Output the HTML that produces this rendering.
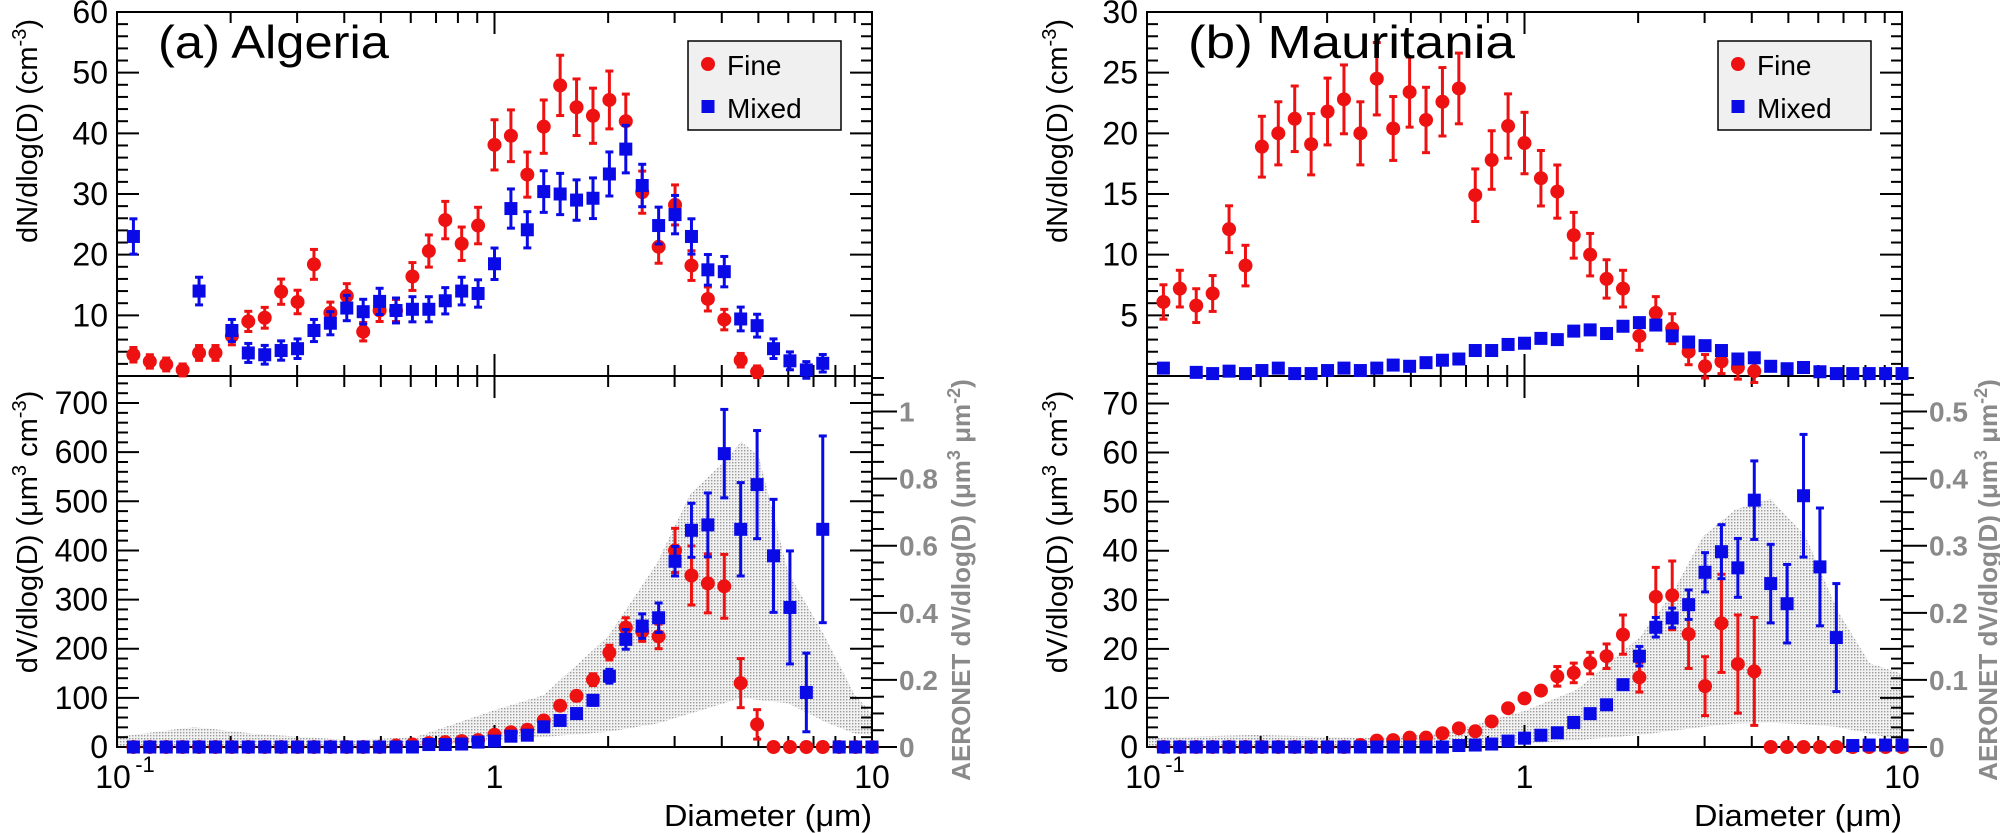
<!DOCTYPE html>
<html><head><meta charset="utf-8">
<style>
html,body{margin:0;padding:0;background:#fff;}
svg{display:block;font-family:"Liberation Sans",Arial,sans-serif;}
</style></head>
<body>
<svg id="chart" width="2000" height="833" viewBox="0 0 2000 833" xmlns="http://www.w3.org/2000/svg">
<g id="root"></g>
</svg>
<script>
// ---------- data (bin index i -> diameter 10^((i-22)/23) um) ----------
const binCount = 46;
// (a) Algeria, top: dN/dlog(D)
const algTopFine = [3.5,2.4,1.9,1.0,3.8,3.8,6.6,9.0,9.6,13.9,12.2,18.4,10.4,13.2,7.3,10.8,10.8,16.4,20.6,25.7,21.8,24.8,38.1,39.6,33.2,41.1,47.9,44.3,42.9,45.5,42.0,30.3,21.3,28.2,18.2,12.7,9.3,2.6,0.7,null,null,null,null,null,null,null];
const algTopMixed = [23.0,null,null,null,14.0,null,7.5,3.8,3.5,4.2,4.5,7.5,8.7,11.2,10.6,12.3,10.8,11.0,11.0,12.4,14.0,13.6,18.5,27.6,24.1,30.4,30.0,29.0,29.3,33.3,37.4,31.4,24.8,26.6,23.0,17.5,17.2,9.4,8.3,4.5,2.5,1.0,2.1,null,null,null];
// (a) Algeria, bottom: dV/dlog(D)
const algBotFine = [0,0,0,0,0,0,0,0,0,0,0,0,0,0,0,0,3,5,8,10,12,14,25,30,35,54,84,104,137,192,243,235,225,400,349,333,327,130,46,0,0,0,0,0,0,0];
const algBotFineErr = [0,0,0,0,0,0,0,0,0,0,0,0,0,0,0,0,0,0,0,0,0,0,4,5,5,6,8,10,12,15,20,20,25,45,60,60,65,50,30,0,0,0,0,0,0,0];
const algBotMixed = [0,0,0,0,0,0,0,0,0,0,0,0,0,0,0,0,0,0,5,5,6,10,12,22,24,41,54,68,95,144,219,246,263,378,441,452,597,443,534,389,284,111,443,0,0,0];
const algBotMixedErr = [0,0,0,0,0,0,0,0,0,0,0,0,0,0,0,0,0,0,0,0,0,0,3,4,4,5,6,8,10,14,20,25,30,30,55,65,90,95,110,115,115,80,190,0,0,0];
const algAeroD = [0.1,0.16,0.23,0.42,0.62,1,1.35,2,2.7,3.3,4.05,4.5,5,6,7.5,9,10];
const algAeroHi = [0.03,0.06,0.04,0.02,0.03,0.11,0.155,0.33,0.55,0.755,0.85,0.91,0.87,0.52,0.33,0.155,0.10];
const algAeroLo = [0,0,0,0,0,0.02,0.03,0.045,0.07,0.1,0.13,0.147,0.14,0.13,0.075,0.04,0.036];
// (b) Mauritania, top
const mauTopFine = [6.1,7.2,5.8,6.8,12.1,9.1,18.9,20.0,21.2,19.1,21.8,22.8,20.0,24.5,20.4,23.4,21.1,22.6,23.7,14.9,17.8,20.6,19.2,16.3,15.2,11.6,10.0,8.0,7.2,3.3,5.2,3.9,2.0,0.8,1.2,0.7,0.4,null,null,null,null,null,null,null,null,null];
const mauTopMixed = [0.65,null,0.3,0.2,0.4,0.2,0.45,0.65,0.2,0.2,0.45,0.65,0.45,0.65,0.9,0.8,1.1,1.3,1.4,2.1,2.1,2.6,2.7,3.1,3.0,3.7,3.8,3.5,4.1,4.4,4.2,3.3,2.8,2.5,2.1,1.4,1.5,0.8,0.6,0.7,0.35,0.2,0.2,0.2,0.2,0.2];
// (b) Mauritania, bottom
const mauBotFine = [0,0,0,0,0,0,0,0,0,0,0,0,0.4,1.3,1.4,1.9,1.9,2.8,3.8,3.2,5.2,7.9,9.9,11.5,14.4,15.1,17.1,18.5,22.9,14.2,30.6,30.9,23.0,12.4,25.2,16.9,15.4,0,0,0,0,0,0,0,0,0];
const mauBotFineErr = [0,0,0,0,0,0,0,0,0,0,0,0,0,0,0,0,0,0,0,0,0,0,0,0,2,2,2.2,2.5,4,3,6,7,7,6,10,10,11,0,0,0,0,0,0,0,0,0];
const mauBotMixed = [0,0,0,0,0,0,0,0,0,0,0,0,0,0,0,0,0,0,0.3,0.4,0.6,1.2,1.8,2.4,2.9,5.0,6.8,8.6,12.7,18.5,24.4,26.3,29.0,35.6,39.8,36.5,50.3,33.3,29.2,51.2,36.7,22.3,0.3,0.4,0.4,0.4];
const mauBotMixedErr = [0,0,0,0,0,0,0,0,0,0,0,0,0,0,0,0,0,0,0,0,0,0,0,0,0,0,0,0,0,2,2,2,3,4,5.5,6,8,8,8,12.5,12,11,0,0,0,0];
const mauAeroD = [0.1,0.195,0.42,0.63,1,1.37,2.02,2.45,2.97,3.62,4.48,5.55,6.74,8.2,10];
const mauAeroHi = [0.014,0.018,0.013,0.022,0.054,0.085,0.164,0.227,0.314,0.354,0.37,0.314,0.204,0.125,0.109];
const mauAeroLo = [0,0,0,0.002,0.005,0.01,0.018,0.024,0.03,0.035,0.036,0.034,0.03,0.02,0.01];
// tick labels
const algTopTicks = [10,20,30,40,50,60];
const algBotTicks = [0,100,200,300,400,500,600,700];
const algRightTicks = ["0","0.2","0.4","0.6","0.8","1"];
const mauTopTicks = [5,10,15,20,25,30];
const mauBotTicks = [0,10,20,30,40,50,60,70];
const mauRightTicks = ["0","0.1","0.2","0.3","0.4","0.5"];

// ---------- drawing ----------
const NS = "http://www.w3.org/2000/svg";
const root = document.getElementById("root");
function mk(tag, attrs, parent){
  const e = document.createElementNS(NS, tag);
  for (const k in attrs) e.setAttribute(k, attrs[k]);
  (parent||root).appendChild(e);
  return e;
}
const TOP = 12, MID = 376, BOT = 747;
const RED = "#ee1111", BLUE = "#0a0ae6";
function dOf(i){ return Math.pow(10,(i-22)/23); }

function panel(p){
  const g = mk("g", {});
  
  
  const X = d => p.x0 + (Math.log10(d)+1)/2*(p.x1-p.x0);
  const YT = v => MID - v/p.topMax*(MID-TOP);
  const YB = v => BOT - v/p.botMax*(BOT-MID);
  const YR = v => BOT - v/p.rMax*(BOT-MID);

  // AERONET band
  let pts = [];
  for (let k=0;k<p.aeroD.length;k++) pts.push(X(p.aeroD[k]).toFixed(1)+","+YR(p.aeroHi[k]).toFixed(1));
  for (let k=p.aeroD.length-1;k>=0;k--) pts.push(X(p.aeroD[k]).toFixed(1)+","+YR(p.aeroLo[k]).toFixed(1));
  const band = mk("polygon", {points: pts.join(" "), fill:"url(#dots)", stroke:"none"}, g);
  
  

  // frames
  const f1 = mk("rect",{x:p.x0,y:TOP,width:p.x1-p.x0,height:MID-TOP,fill:"none",stroke:"#000","stroke-width":2},g);
  
  
  const f2 = mk("rect",{x:p.x0,y:MID,width:p.x1-p.x0,height:BOT-MID,fill:"none",stroke:"#000","stroke-width":2},g);
  
  

  // x ticks (log)
  const tk = mk("g",{stroke:"#000","stroke-width":2},g);
  
  
  for (let dec=-1; dec<=0; dec++){
    for (let m=1;m<=10;m++){
      if (m===10 && dec===-1) continue;
      const x = X(m*Math.pow(10,dec));
      const L = (m===1||m===10)?22:11;
      mk("line",{x1:x,y1:BOT,x2:x,y2:BOT-L},tk);
      mk("line",{x1:x,y1:MID,x2:x,y2:MID-L},tk);
      mk("line",{x1:x,y1:MID,x2:x,y2:MID+L},tk);
      mk("line",{x1:x,y1:TOP,x2:x,y2:TOP+L},tk);
    }
  }
  // y ticks
  const yt = mk("g",{stroke:"#000","stroke-width":2},g);
  
  
  const tStep = p.topMax/30;
  for (let k=1;k<30;k++){ const y=YT(k*tStep); const L=(k%5===0)?22:11;
    mk("line",{x1:p.x0,y1:y,x2:p.x0+L,y2:y},yt); mk("line",{x1:p.x1,y1:y,x2:p.x1-L,y2:y},yt); }
  const bStep = p.botTicks[1]/5;
  for (let v=bStep; v<p.botMax; v+=bStep){ const y=YB(v); const L=(Math.abs(v/p.botTicks[1]-Math.round(v/p.botTicks[1]))<1e-6)?22:11;
    mk("line",{x1:p.x0,y1:y,x2:p.x0+L,y2:y},yt); mk("line",{x1:p.x1,y1:y,x2:p.x1-L,y2:y},yt); }
  const rStep = p.rMajor/4;
  for (let v=rStep; v<p.rMax; v+=rStep){ const y=YR(v); const maj=Math.abs(v/p.rMajor-Math.round(v/p.rMajor))<1e-6;
    mk("line",{x1:p.x1,y1:y,x2:p.x1+(maj?25:12),y2:y},yt); }
  mk("line",{x1:p.x1,y1:BOT,x2:p.x1+25,y2:BOT},yt);

  // tick labels
  const lbl = mk("g",{"font-size":32,fill:"#000","text-anchor":"end"},g);
  
  
  p.topTicks.forEach(v=>{ const t=mk("text",{x:p.x0-9,y:YT(v)+11},lbl); t.textContent=v; });
  p.botTicks.forEach(v=>{ const t=mk("text",{x:p.x0-9,y:YB(v)+11},lbl); t.textContent=v; });
  const rl = mk("g",{"font-size":28,fill:"#8a8a8a","font-weight":"bold"},g);
  
  
  p.rTicks.forEach(s=>{ const t=mk("text",{x:p.x1+27,y:YR(parseFloat(s))+10},rl); t.textContent=s; });

  const xl = mk("g",{"font-size":32,fill:"#000","text-anchor":"middle"},g);
  
  
  const t1 = mk("text",{x:X(0.1)-4,y:788},xl); t1.textContent="10";
  const t1s = mk("text",{x:X(0.1)+28,y:772,"font-size":22},xl); t1s.textContent="-1";
  const t2 = mk("text",{x:X(1),y:788},xl); t2.textContent="1";
  const t3 = mk("text",{x:X(10),y:788},xl); t3.textContent="10";
  const xt = mk("text",{x:p.x1,y:826,"font-size":31,"text-anchor":"end",textLength:208,lengthAdjust:"spacingAndGlyphs"},g);
  xt.textContent = "Diameter (\u03bcm)";
  
  

  // y titles
  const ty = mk("text",{transform:`translate(${p.x0-80},131) rotate(-90)`,"font-size":29,"text-anchor":"middle"},g);
  ty.innerHTML = 'dN/dlog(D) (cm<tspan dy="-11" font-size="20">-3</tspan><tspan dy="11">)</tspan>';
  
  
  const by = mk("text",{transform:`translate(${p.x0-80},532) rotate(-90)`,"font-size":29,"text-anchor":"middle"},g);
  by.innerHTML = 'dV/dlog(D) (\u03bcm<tspan dy="-11" font-size="20">3</tspan><tspan dy="11"> cm</tspan><tspan dy="-11" font-size="20">-3</tspan><tspan dy="11">)</tspan>';
  
  
  const ry = mk("text",{transform:`translate(${p.x1+p.rTitleDx},580) rotate(-90)`,"font-size":26,"font-weight":"bold",fill:"#8a8a8a","text-anchor":"middle"},g);
  ry.innerHTML = 'AERONET dV/dlog(D) (\u03bcm<tspan dy="-10" font-size="18">3</tspan><tspan dy="10"> \u03bcm</tspan><tspan dy="-10" font-size="18">-2</tspan><tspan dy="10">)</tspan>';
  
  

  // series
  function series(vals, errs, Y, color, square, nm){
    const sg = mk("g",{},g);
    
    
    for (let i=0;i<vals.length;i++){
      const v = vals[i]; if (v===null) continue;
      const x = X(dOf(i)), y = Y(v);
      const e = errs ? errs[i] : 0;
      if (e>0){
        const y1=Y(v+e), y2=Y(v-e);
        mk("line",{x1:x,y1:y1,x2:x,y2:y2,stroke:color,"stroke-width":3},sg);
        mk("line",{x1:x-4,y1:y1,x2:x+4,y2:y1,stroke:color,"stroke-width":3},sg);
        mk("line",{x1:x-4,y1:y2,x2:x+4,y2:y2,stroke:color,"stroke-width":3},sg);
      }
      let m;
      if (square) m = mk("rect",{x:x-6.5,y:y-6.5,width:13,height:13,fill:color},sg);
      else m = mk("circle",{cx:x,cy:y,r:7,fill:color},sg);
      
      
    }
  }
  const topErrF = p.topFine.map(v=>v===null?0:0.085*v+0.9);
  const topErrM = p.topMixed.map(v=>v===null?0:(p.mixedErr? 0.07*v+1.3 : 0));
  series(p.botFine, p.botFineErr, YB, RED, false, 'fine-volume-series');
  series(p.botMixed, p.botMixedErr, YB, BLUE, true, 'mixed-volume-series');
  series(p.topFine, topErrF, YT, RED, false, 'fine-number-series');
  series(p.topMixed, topErrM, YT, BLUE, true, 'mixed-number-series');

  // legend
  const lg = mk("g",{},g);
  
  
  const lx = p.x1-184;
  mk("rect",{x:lx,y:41,width:153,height:89,fill:"#f0f0f0",stroke:"#000","stroke-width":1.5},lg);
  mk("circle",{cx:lx+20,cy:64,r:7,fill:RED},lg);
  const lf = mk("text",{x:lx+39,y:75,"font-size":28},lg); lf.textContent="Fine";
  
  
  mk("rect",{x:lx+13.5,y:100,width:13,height:13,fill:BLUE},lg);
  const lm = mk("text",{x:lx+39,y:118,"font-size":28},lg); lm.textContent="Mixed";
  
  

  // panel title
  const pt = mk("text",{x:p.x0+41,y:58,"font-size":46,textLength:p.titleW,lengthAdjust:"spacingAndGlyphs"},g);
  pt.textContent = p.title;
  
  
}

const defs = mk("defs",{});
const pat = mk("pattern",{id:"dots",width:3,height:3,patternUnits:"userSpaceOnUse"},defs);
mk("rect",{x:0,y:0,width:3,height:3,fill:"#f2f2f2"},pat);
mk("rect",{x:0,y:0,width:1.4,height:1.4,fill:"#9a9a9a"},pat);

panel({name:"panel-a-algeria", title:"(a) Algeria", titleW:231, x0:117, x1:872, rTitleDx:98,
  topMax:60, botMax:755, rMax:1.106, rMajor:0.2,
  topTicks:algTopTicks, botTicks:algBotTicks, rTicks:algRightTicks,
  topFine:algTopFine, topMixed:algTopMixed, mixedErr:true,
  botFine:algBotFine, botFineErr:algBotFineErr, botMixed:algBotMixed, botMixedErr:algBotMixedErr,
  aeroD:algAeroD, aeroHi:algAeroHi, aeroLo:algAeroLo});
panel({name:"panel-b-mauritania", title:"(b) Mauritania", titleW:327, x0:1147, x1:1902, rTitleDx:95,
  topMax:30, botMax:75.6, rMax:0.553, rMajor:0.1,
  topTicks:mauTopTicks, botTicks:mauBotTicks, rTicks:mauRightTicks,
  topFine:mauTopFine, topMixed:mauTopMixed, mixedErr:false,
  botFine:mauBotFine, botFineErr:mauBotFineErr, botMixed:mauBotMixed, botMixedErr:mauBotMixedErr,
  aeroD:mauAeroD, aeroHi:mauAeroHi, aeroLo:mauAeroLo});
</script>
</body></html>
